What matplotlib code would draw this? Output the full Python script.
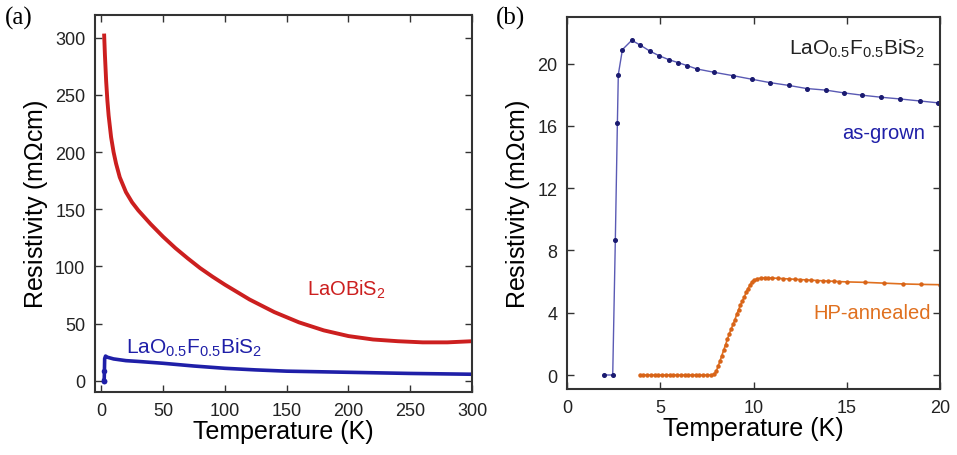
import matplotlib
matplotlib.use("Agg")
import matplotlib.pyplot as plt

plt.rcParams['font.family'] = ['Liberation Sans', 'DejaVu Sans']
plt.rcParams['mathtext.fontset'] = 'custom'
plt.rcParams['mathtext.rm'] = 'Liberation Sans'
plt.rcParams['mathtext.it'] = 'Liberation Sans:italic'

# (a) resistivity vs temperature, full range
laobis_T = [2.4, 3, 4, 5, 6, 8, 10, 12, 15, 20, 25, 30, 40, 50, 60, 70, 80, 90,
            100, 120, 140, 160, 180, 200, 220, 240, 260, 280, 300]
laobis_R = [302, 285, 262, 245, 232, 213, 200, 190, 178, 165, 156, 149, 137, 126,
            116, 107, 98.5, 91, 84, 71, 60, 51, 44, 39, 36, 34.5, 33.5, 33.5, 34.5]

lof_T = [2.0, 2.4, 2.6, 2.8, 3.5, 5, 10, 20, 30, 50, 75, 100, 125, 150, 200, 250, 300]
lof_R = [0, 0, 8.7, 19.3, 21.5, 20.5, 19.0, 17.5, 16.8, 15.2, 12.8, 10.8, 9.4, 8.3,
         7.3, 6.3, 5.6]

# (b) low temperature detail
asg_T = [1.98, 2.45, 2.59, 2.70, 2.75, 2.97, 3.47, 3.91, 4.45, 4.95, 5.47, 5.97,
         6.45, 6.95, 7.9, 8.88, 9.9, 10.88, 11.89, 12.85, 13.87, 14.85, 15.84,
         16.85, 17.86, 18.93, 19.9]
asg_R = [0, 0, 8.67, 16.2, 19.3, 20.9, 21.5, 21.2, 20.8, 20.5, 20.25, 20.06,
         19.87, 19.66, 19.44, 19.23, 19.0, 18.78, 18.6, 18.4, 18.3, 18.12, 17.97,
         17.84, 17.73, 17.6, 17.48]

hp_T = [3.9, 4.1, 4.3, 4.5, 4.7, 4.9, 5.1, 5.3, 5.5, 5.7, 5.9, 6.1, 6.3, 6.5,
        6.7, 6.9, 7.1, 7.3, 7.5, 7.7, 7.9, 8.0, 8.1, 8.2, 8.3, 8.4, 8.5, 8.6,
        8.7, 8.8, 8.9, 9.0, 9.1, 9.2, 9.3, 9.4, 9.5, 9.6, 9.7, 9.8, 9.9, 10.0,
        10.2, 10.4, 10.6, 10.8, 11.0, 11.3, 11.6, 11.9, 12.2, 12.5, 12.8, 13.1,
        13.4, 13.7, 14.0, 14.3, 14.6, 15.0, 16.0, 17.0, 18.0, 19.0, 20.0]
hp_R = [0, 0, 0, 0, 0, 0, 0, 0, 0, 0, 0, 0, 0, 0,
        0, 0, 0, 0, 0, 0, 0.05, 0.25, 0.55, 0.9, 1.25, 1.6, 1.95, 2.3,
        2.65, 2.95, 3.25, 3.55, 3.9, 4.2, 4.5, 4.75, 5.0, 5.3, 5.55, 5.75, 5.95, 6.08,
        6.18, 6.23, 6.25, 6.24, 6.23, 6.21, 6.19, 6.17, 6.15, 6.13, 6.11, 6.09,
        6.07, 6.05, 6.03, 6.02, 6.0, 5.98, 5.95, 5.9, 5.85, 5.82, 5.8]

red = '#cc1f1f'
blue = '#1f1fa8'
orange = '#e0701f'
spine_c = '#333333'

fig = plt.figure(figsize=(9.57, 4.56), dpi=100)
axa = fig.add_axes([0.0993, 0.138, 0.394, 0.827])
axb = fig.add_axes([0.5925, 0.1447, 0.3898, 0.816])

for ax in (axa, axb):
    ax.tick_params(direction='in', length=5, width=1, top=True, right=True,
                   labelsize=13, colors=spine_c, labelcolor='#222222', pad=7)
    for s in ax.spines.values():
        s.set_linewidth(1.5)
        s.set_color(spine_c)

# panel (a)
axa.plot(laobis_T, laobis_R, color=red, lw=2.8, solid_joinstyle='round')
axa.plot(lof_T, lof_R, color=blue, lw=2.6, solid_joinstyle='round')
axa.plot(lof_T[:3], lof_R[:3], color=blue, lw=0, marker='o', ms=3)
axa.set_xlim(-5, 300)
axa.set_ylim(-10, 320)
axa.set_xticks([0, 50, 100, 150, 200, 250, 300])
axa.set_yticks([0, 50, 100, 150, 200, 250, 300])
axa.set_xlabel('Temperature (K)', fontsize=18, labelpad=0)
axa.set_ylabel('Resistivity (m$\\Omega$cm)', fontsize=18, labelpad=4)
axa.text(198, 80, 'LaOBiS$_2$', color=red, fontsize=14.5, ha='center', va='center')
axa.text(75, 30, 'LaO$_{0.5}$F$_{0.5}$BiS$_2$', color=blue, fontsize=15,
         ha='center', va='center')

# panel (b)
axb.plot(asg_T, asg_R, color='#5a5ab4', lw=1, marker='o', ms=2.6,
         mfc='#1a1a70', mec='#1a1a70')
axb.plot(hp_T, hp_R, color=orange, lw=1.2, marker='o', ms=2.2,
         mfc='#d86418', mec='#d86418')
axb.set_xlim(0, 20)
axb.set_ylim(-0.9, 23)
axb.set_xticks([0, 5, 10, 15, 20])
axb.set_yticks([0, 4, 8, 12, 16, 20])
axb.set_xlabel('Temperature (K)', fontsize=18, labelpad=0)
axb.set_ylabel('Resistivity (m$\\Omega$cm)', fontsize=18, labelpad=4)
axb.text(19.2, 21.0, 'LaO$_{0.5}$F$_{0.5}$BiS$_2$', color='#222222', fontsize=15,
         ha='right', va='center')
axb.text(19.2, 15.6, 'as-grown', color=blue, fontsize=14.5, ha='right', va='center')
axb.text(19.5, 4.0, 'HP-annealed', color=orange, fontsize=14.5, ha='right', va='center')

fig.text(0.005, 0.985, '(a)', fontsize=18, family='Liberation Serif', va='top')
fig.text(0.518, 0.985, '(b)', fontsize=18, family='Liberation Serif', va='top')

fig.savefig('out.png', dpi=100)
